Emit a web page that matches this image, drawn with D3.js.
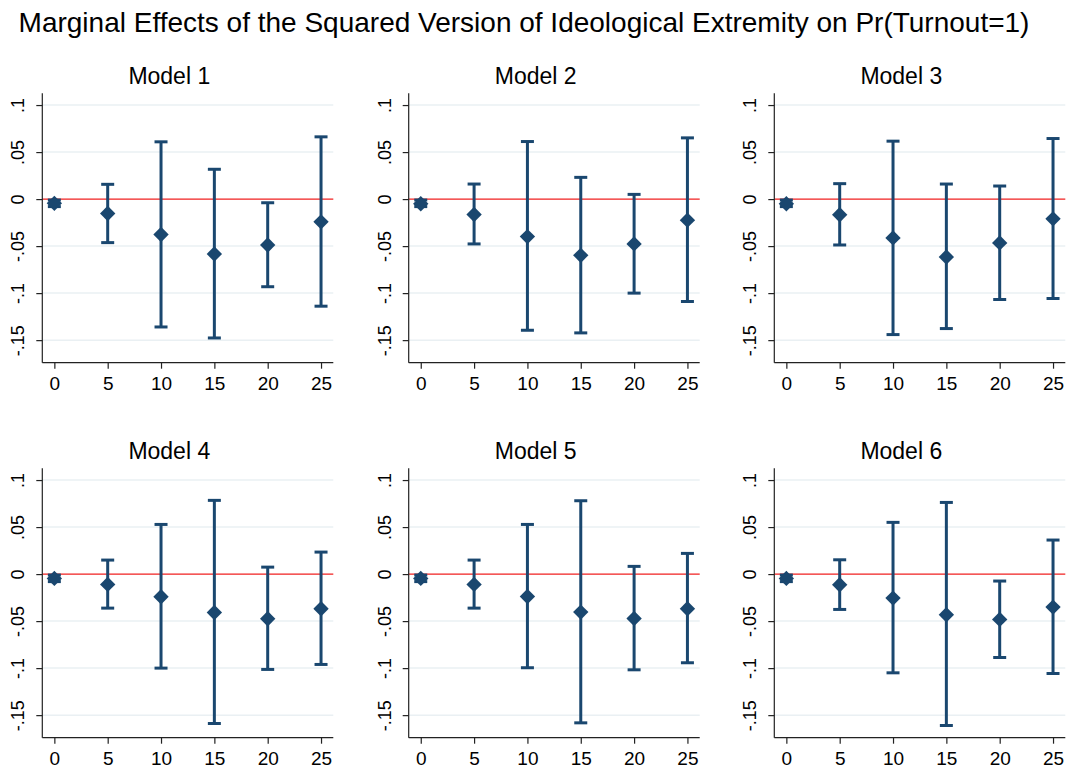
<!DOCTYPE html>
<html>
<head>
<meta charset="utf-8">
<script src="https://cdn.jsdelivr.net/npm/d3@7"></script>
<style>
  body { margin: 0; background: #fff; }
  svg { display: block; font-family: Helvetica, Arial, "Liberation Sans", sans-serif; }
</style>
</head>
<body>
<svg id="chart" width="1070" height="769"></svg>
<script>
// Data
const modelNames = ['Model 1', 'Model 2', 'Model 3', 'Model 4', 'Model 5', 'Model 6'];
const extremity = [0, 5, 10, 15, 20, 25];
const yTicks = [-0.15, -0.1, -0.05, 0, 0.05, 0.1];
const yTickLabels = ['-.15', '-.1', '-.05', '0', '.05', '.1'];

// point estimates, one row per model
const estimate = [
    [-0.0045, -0.0153, -0.0377, -0.0584, -0.0488, -0.0242],
    [-0.0050, -0.0164, -0.0399, -0.0598, -0.0477, -0.0224],
    [-0.0050, -0.0167, -0.0413, -0.0616, -0.0466, -0.0210],
    [-0.0046, -0.0110, -0.0241, -0.0408, -0.0475, -0.0369],
    [-0.0046, -0.0110, -0.0238, -0.0404, -0.0472, -0.0369],
    [-0.0046, -0.0113, -0.0255, -0.0433, -0.0482, -0.0351]
];
// lower confidence bounds
const lower = [
    [-0.008, -0.0463, -0.1360, -0.1477, -0.0932, -0.1139],
    [-0.008, -0.0477, -0.1395, -0.1423, -0.1000, -0.1089],
    [-0.008, -0.0488, -0.1441, -0.1377, -0.1068, -0.1057],
    [-0.008, -0.0362, -0.1000, -0.1589, -0.1014, -0.0961],
    [-0.008, -0.0362, -0.0996, -0.1582, -0.1018, -0.0943],
    [-0.008, -0.0376, -0.1050, -0.1610, -0.0887, -0.1057]
];
// upper confidence bounds
const upper = [
    [-0.001, 0.0157, 0.0609, 0.0317, -0.0039, 0.0662],
    [-0.001, 0.0160, 0.0612, 0.0231, 0.0050, 0.0651],
    [-0.001, 0.0164, 0.0616, 0.0160, 0.0139, 0.0644],
    [-0.001, 0.0149, 0.0528, 0.0784, 0.0074, 0.0234],
    [-0.001, 0.0149, 0.0528, 0.0780, 0.0082, 0.0220],
    [-0.001, 0.0152, 0.0550, 0.0762, -0.0074, 0.0362]
];

const navy = '#1a476f';
const gridColor = '#eaf0f3';

const svg = d3.select('#chart');

// Main title
svg.append('text')
    .attr('x', 524)
    .attr('y', 32)
    .attr('text-anchor', 'middle')
    .attr('font-size', 28)
    .attr('fill', '#000')
    .text('Marginal Effects of the Squared Version of Ideological Extremity on Pr(Turnout=1)');

// Panel layout
const panelLeft = [42.3, 408.7, 774.3];
const panelTop = [93.3, 468.3];
const plotW = 291;
const plotH = 269.4;

const x = d3.scaleLinear().domain([-1.13, 26.15]).range([0, plotW]);
const y = d3.scaleLinear().domain([-0.174, 0.1125]).range([plotH, 0]);

const diamond = d3.symbol().type(d3.symbolSquare).size(118);

modelNames.forEach((name, i) => {
    const col = i % 3;
    const row = Math.floor(i / 3);
    const g = svg.append('g')
        .attr('transform', `translate(${panelLeft[col]}, ${panelTop[row]})`);

    // Panel title
    g.append('text')
        .attr('x', 127)
        .attr('y', -9.5)
        .attr('text-anchor', 'middle')
        .attr('font-size', 23)
        .attr('fill', '#000')
        .text(name);

    // Gridlines
    g.selectAll('.grid')
        .data(yTicks.filter(t => t !== 0))
        .enter()
        .append('line')
        .attr('x1', 0)
        .attr('x2', plotW)
        .attr('y1', d => y(d))
        .attr('y2', d => y(d))
        .attr('stroke', gridColor)
        .attr('stroke-width', 1.5);

    // Reference line at zero
    g.append('line')
        .attr('x1', 0)
        .attr('x2', plotW)
        .attr('y1', y(0))
        .attr('y2', y(0))
        .attr('stroke', '#f02020')
        .attr('stroke-width', 1.4);

    // Y axis
    const yAxis = d3.axisLeft(y)
        .tickValues(yTicks)
        .tickSize(6)
        .tickFormat((d, k) => yTickLabels[k]);
    const ya = g.append('g').call(yAxis);
    ya.select('.domain').attr('d', `M0,0V${plotH}`).attr('stroke', '#222').attr('stroke-width', 1.2);
    ya.selectAll('.tick line').attr('stroke', '#222').attr('stroke-width', 1.2);
    ya.selectAll('.tick text')
        .attr('x', null)
        .attr('dy', null)
        .attr('transform', 'translate(-18,0) rotate(-90)')
        .attr('text-anchor', 'middle')
        .attr('font-size', 18)
        .attr('fill', '#000');

    // X axis
    const xAxis = d3.axisBottom(x)
        .tickValues(extremity)
        .tickSize(6)
        .tickFormat(d3.format('d'));
    const xa = g.append('g')
        .attr('transform', `translate(0, ${plotH})`)
        .call(xAxis);
    xa.select('.domain').attr('d', `M0,0H${plotW}`).attr('stroke', '#222').attr('stroke-width', 1.2);
    xa.selectAll('.tick line').attr('stroke', '#222').attr('stroke-width', 1.2);
    xa.selectAll('.tick text')
        .attr('y', 27)
        .attr('dy', null)
        .attr('font-size', 19)
        .attr('fill', '#000');
    ya.attr('font-family', null);
    xa.attr('font-family', null);

    const pts = extremity.map((e, k) => ({
        x: e,
        est: estimate[i][k],
        lo: lower[i][k],
        hi: upper[i][k]
    }));

    // Error bars
    const bars = g.selectAll('.bar')
        .data(pts)
        .enter()
        .append('g')
        .attr('class', 'bar');
    bars.append('line')
        .attr('x1', d => x(d.x))
        .attr('x2', d => x(d.x))
        .attr('y1', d => y(d.lo))
        .attr('y2', d => y(d.hi))
        .attr('stroke', navy)
        .attr('stroke-width', 3);
    ['lo', 'hi'].forEach(key => {
        bars.append('line')
            .attr('x1', d => x(d.x) - 6.5)
            .attr('x2', d => x(d.x) + 6.5)
            .attr('y1', d => y(d[key]))
            .attr('y2', d => y(d[key]))
            .attr('stroke', navy)
            .attr('stroke-width', 3);
    });

    // Point estimates (diamonds)
    g.selectAll('.pt')
        .data(pts)
        .enter()
        .append('path')
        .attr('d', diamond)
        .attr('transform', d => `translate(${x(d.x)}, ${y(d.est)}) rotate(45)`)
        .attr('fill', navy);
});
</script>
</body>
</html>
